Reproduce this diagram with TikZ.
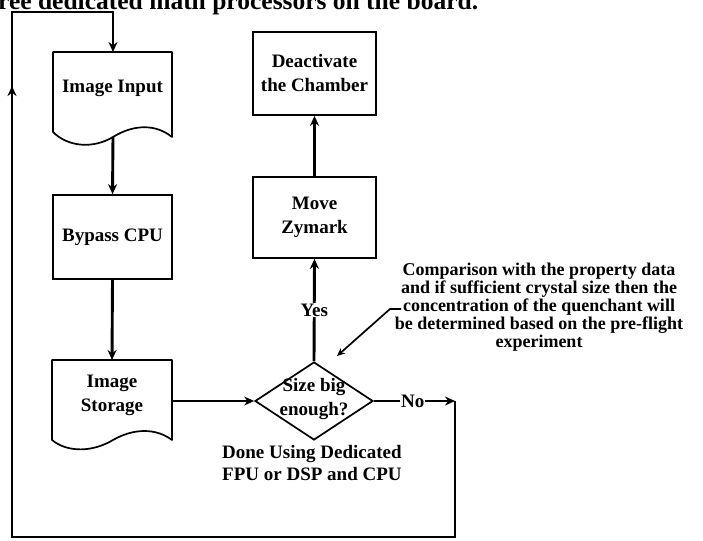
\documentclass[tikz,border=0pt]{standalone}
\usepackage{fontspec}
\setmainfont{Liberation Serif}
\usetikzlibrary{arrows.meta,shapes.geometric}
\begin{document}
\begin{tikzpicture}[x=1pt,y=-1pt,
  boxtxt/.style={font=\bfseries\fontsize{19}{24}\selectfont,align=center},
  box/.style={boxtxt,draw,line width=1.7pt,inner sep=0pt},
  shapeline/.style={draw,line width=1.7pt,line join=round},
  conn/.style={line width=2.9pt,-{Stealth[length=10pt,width=9pt]}},
  lbl/.style={font=\bfseries\fontsize{19}{24}\selectfont,fill=white,inner sep=1pt}]
\useasboundingbox (0,0) rectangle (703,540);
% cut-off caption line at the top
\begin{scope}
\clip (0,0) rectangle (703,540);
\node[anchor=base west,inner sep=0pt,font=\bfseries\fontsize{25.5}{25.5}\selectfont] (cap) at (-2,10) {ree dedicated math processors on the board.};
\end{scope}
% Image Input (document shape)
\path[shapeline,fill=white] (53,52) -- (172,52) -- (172,137)
  .. controls (156,124) and (134,124) .. (113,137)
  .. controls (93,149) and (68,147) .. (53,132) -- cycle;
\node[boxtxt] (in) at (112.5,88) {Image Input};
\coordinate (intop) at (113,52);
\coordinate (inbot) at (113,137);
% Bypass CPU
\node[box,minimum width=119pt,minimum height=84pt] (cpu) at (112.5,237) {Bypass CPU};
% Image Storage (document shape)
\path[shapeline,fill=white] (52,360) -- (172,360) -- (172,440)
  .. controls (156,428) and (134,428) .. (113,440)
  .. controls (93,452) and (68,453) .. (52,440) -- cycle;
\node[boxtxt] (st) at (112,395) {Image\\Storage};
\coordinate (sttop) at (112,360);
\coordinate (stright) at (172,401);
% decision
\node[diamond,draw,line width=1.7pt,minimum width=118pt,minimum height=78pt,inner sep=0pt] (dia) at (314,401) {};
\node[boxtxt] (diat) at (314,399) {Size big\\enough?};
\node[anchor=west,align=left,font=\bfseries\fontsize{19}{22}\selectfont,inner sep=0pt] (done) at (222,463) {Done Using Dedicated\\FPU or DSP and CPU};
% Move Zymark, Deactivate
\node[box,minimum width=123pt,minimum height=81pt] (mz) at (314.5,217.5) {Move\\Zymark};
\node[box,minimum width=123pt,minimum height=83pt] (deact) at (314.5,73.5) {Deactivate\\the Chamber};
% annotation
\node[align=center,font=\bfseries\fontsize{18}{18}\selectfont,inner sep=0pt] (ann) at (539,307) {Comparison with the property data\\and if sufficient crystal size then the\\concentration of the quenchant will\\be determined based on the pre-flight\\experiment};
\coordinate (l1) at (401,309);
\coordinate (l2) at (390,309);
\coordinate (l3) at (337,356);
\draw[line width=1.7pt,-{Stealth[length=8pt,width=7pt]}] (l1) -- (l2) -- (l3);
% connectors
\draw[conn] (inbot) -- (cpu.north);
\draw[conn] (cpu.south) -- (sttop);
\draw[conn] (stright) -- (dia.west);
\draw[conn] (dia.north) -- node[lbl] (yes) {Yes} (mz.south);
\draw[conn] (mz.north) -- (deact.south);
\coordinate (c1) at (455,401);
\coordinate (c2) at (455,537);
\coordinate (c3) at (12,537);
\coordinate (c4) at (12,12);
\coordinate (c5) at (113,12);
\coordinate (cm) at (12,86);
\draw[conn] (dia.east) -- node[lbl,pos=0.48] (no) {No} (c1);
\draw[conn,line join=miter] (c1) -- (c2) -- (c3) -- (c4) -- (c5) -- (intop);
\draw[conn] (c3) -- (cm);
\end{tikzpicture}
\end{document}
